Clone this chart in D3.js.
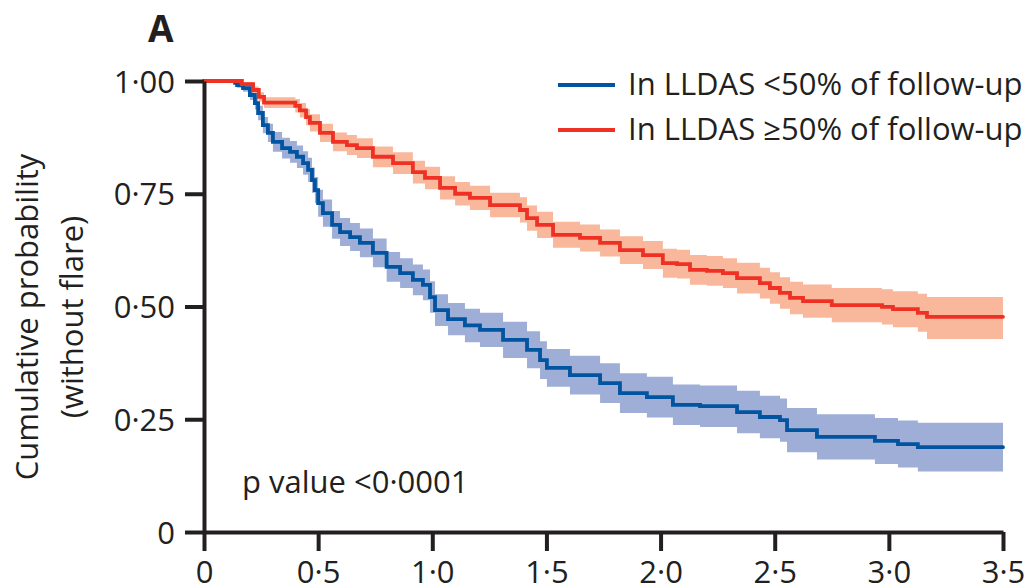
<!DOCTYPE html>
<html>
<head>
<meta charset="utf-8">
<script src="https://cdn.jsdelivr.net/npm/d3@7"></script>
<style>
  body { margin: 0; background: #fff; }
  svg text { font-family: "Open Sans", "Noto Sans", sans-serif; fill: #231f20; }
</style>
</head>
<body>
<div id="chart"></div>
<script>
// years of follow-up, survival without flare, and 95% CI
const lowTime = [0, 0.136, 0.145, 0.171, 0.201, 0.223, 0.237, 0.258, 0.28, 0.302, 0.342, 0.377, 0.407, 0.434, 0.456, 0.473, 0.486, 0.50, 0.521, 0.561, 0.596, 0.64, 0.683, 0.74, 0.80, 0.859, 0.915, 0.959, 0.99, 1.012, 1.069, 1.143, 1.209, 1.31, 1.415, 1.472, 1.502, 1.603, 1.735, 1.822, 1.94, 2.054, 2.173, 2.335, 2.435, 2.523, 2.554, 2.685, 2.939, 3.04, 3.127, 3.5];
const lowSurv = [1, 0.996, 0.991, 0.984, 0.969, 0.951, 0.929, 0.902, 0.885, 0.865, 0.851, 0.843, 0.832, 0.818, 0.803, 0.780, 0.758, 0.729, 0.707, 0.681, 0.665, 0.654, 0.641, 0.619, 0.588, 0.574, 0.559, 0.548, 0.521, 0.492, 0.472, 0.458, 0.448, 0.426, 0.404, 0.381, 0.364, 0.348, 0.330, 0.308, 0.299, 0.282, 0.279, 0.266, 0.255, 0.248, 0.226, 0.211, 0.202, 0.195, 0.188, 0.188];
const lowLower = [1, 0.992, 0.985, 0.976, 0.958, 0.937, 0.913, 0.884, 0.865, 0.843, 0.828, 0.819, 0.807, 0.792, 0.776, 0.752, 0.729, 0.699, 0.677, 0.650, 0.634, 0.623, 0.609, 0.587, 0.555, 0.541, 0.525, 0.514, 0.486, 0.457, 0.436, 0.421, 0.410, 0.386, 0.363, 0.339, 0.322, 0.305, 0.286, 0.264, 0.254, 0.237, 0.233, 0.219, 0.208, 0.200, 0.177, 0.161, 0.151, 0.143, 0.134, 0.134];
const lowUpper = [1, 1, 0.997, 0.992, 0.980, 0.965, 0.945, 0.920, 0.905, 0.887, 0.874, 0.867, 0.857, 0.844, 0.830, 0.808, 0.787, 0.759, 0.737, 0.712, 0.696, 0.685, 0.673, 0.651, 0.621, 0.607, 0.593, 0.582, 0.556, 0.527, 0.508, 0.495, 0.486, 0.466, 0.445, 0.423, 0.406, 0.391, 0.374, 0.352, 0.344, 0.327, 0.325, 0.313, 0.302, 0.296, 0.275, 0.261, 0.253, 0.247, 0.242, 0.242];

const highTime = [0, 0.166, 0.215, 0.24, 0.263, 0.40, 0.42, 0.447, 0.464, 0.508, 0.565, 0.626, 0.67, 0.74, 0.828, 0.915, 0.968, 1.034, 1.10, 1.165, 1.253, 1.384, 1.415, 1.459, 1.529, 1.647, 1.735, 1.822, 1.923, 2.01, 2.072, 2.129, 2.203, 2.273, 2.335, 2.435, 2.479, 2.523, 2.567, 2.624, 2.75, 2.97, 3.018, 3.127, 3.167, 3.5];
const highSurv = [1, 0.993, 0.98, 0.965, 0.952, 0.945, 0.935, 0.92, 0.907, 0.885, 0.865, 0.858, 0.851, 0.832, 0.818, 0.798, 0.785, 0.763, 0.75, 0.741, 0.725, 0.714, 0.696, 0.681, 0.659, 0.652, 0.641, 0.625, 0.614, 0.596, 0.594, 0.581, 0.579, 0.574, 0.563, 0.552, 0.541, 0.530, 0.519, 0.512, 0.503, 0.499, 0.494, 0.486, 0.477, 0.477];
const highLower = [1, 0.988, 0.972, 0.955, 0.940, 0.930, 0.919, 0.902, 0.888, 0.865, 0.844, 0.836, 0.829, 0.809, 0.794, 0.773, 0.760, 0.737, 0.724, 0.714, 0.698, 0.686, 0.668, 0.652, 0.630, 0.622, 0.611, 0.594, 0.583, 0.564, 0.562, 0.548, 0.546, 0.541, 0.529, 0.518, 0.506, 0.495, 0.483, 0.475, 0.465, 0.460, 0.454, 0.444, 0.428, 0.428];
const highUpper = [1, 0.998, 0.988, 0.975, 0.964, 0.960, 0.951, 0.938, 0.926, 0.905, 0.886, 0.880, 0.873, 0.855, 0.842, 0.823, 0.810, 0.789, 0.776, 0.768, 0.752, 0.742, 0.724, 0.710, 0.688, 0.682, 0.671, 0.656, 0.645, 0.628, 0.626, 0.614, 0.612, 0.607, 0.597, 0.586, 0.576, 0.565, 0.555, 0.549, 0.541, 0.538, 0.534, 0.528, 0.521, 0.521];

const seriesNames = ['In LLDAS <50% of follow-up', 'In LLDAS \u226550% of follow-up'];
const xTicks = [0, 0.5, 1, 1.5, 2, 2.5, 3, 3.5];
const xTickLabels = ['0', '0\u00b75', '1\u00b70', '1\u00b75', '2\u00b70', '2\u00b75', '3\u00b70', '3\u00b75'];
const yTicks = [0, 0.25, 0.5, 0.75, 1];
const yTickLabels = ['0', '0\u00b725', '0\u00b750', '0\u00b775', '1\u00b700'];

const lineColors = ['#0054a0', '#ee3124'];
const bandColors = ['#9eaed7', '#f9b89c'];
const fontSize = 31;

const width = 1029, height = 587;
const svg = d3.select('#chart').append('svg')
    .attr('width', width)
    .attr('height', height);

const x = d3.scaleLinear().domain([0, 3.5]).range([204, 1003]);
const y = d3.scaleLinear().domain([0, 1]).range([532, 81]);

const toRows = (t, s, lo, hi) => t.map((d, i) => ({t: d, s: s[i], lo: lo[i], hi: hi[i]}));
const groups = [
    toRows(lowTime, lowSurv, lowLower, lowUpper),
    toRows(highTime, highSurv, highLower, highUpper)
];

const band = d3.area()
    .curve(d3.curveStepAfter)
    .x(d => x(d.t))
    .y0(d => y(d.lo))
    .y1(d => y(d.hi));

const line = d3.line()
    .curve(d3.curveStepAfter)
    .x(d => x(d.t))
    .y(d => y(d.s));

svg.selectAll('.band')
    .data(groups)
    .enter()
    .append('path')
    .attr('class', 'band')
    .attr('fill', (d, i) => bandColors[i])
    .attr('d', band);

svg.selectAll('.curve')
    .data(groups)
    .enter()
    .append('path')
    .attr('class', 'curve')
    .attr('fill', 'none')
    .attr('stroke', (d, i) => lineColors[i])
    .attr('stroke-width', 3.8)
    .attr('stroke-linecap', 'round')
    .attr('d', line);

// axes
const yAxis = svg.append('g')
    .attr('transform', `translate(${x(0)},0)`)
    .call(d3.axisLeft(y)
        .tickValues(yTicks)
        .tickFormat((d, i) => yTickLabels[i])
        .tickSize(19)
        .tickSizeOuter(0)
        .tickPadding(10));

const xAxis = svg.append('g')
    .attr('transform', `translate(0,${y(0)})`)
    .call(d3.axisBottom(x)
        .tickValues(xTicks)
        .tickFormat((d, i) => xTickLabels[i])
        .tickSize(19)
        .tickSizeOuter(0)
        .tickPadding(10));

[yAxis, xAxis].forEach(a => {
    a.select('.domain').attr('stroke', '#231f20').attr('stroke-width', 4);
    a.selectAll('.tick line').attr('stroke', '#231f20').attr('stroke-width', 4);
    a.selectAll('.tick text')
        .attr('fill', '#231f20')
        .style('font-size', fontSize + 'px')
        .style('font-family', '"Open Sans", sans-serif');
});
yAxis.selectAll('.tick text').attr('dy', '0.36em');

// y axis title
const yTitle = svg.append('text')
    .attr('transform', 'translate(38,317) rotate(-90)')
    .attr('text-anchor', 'middle')
    .style('font-size', fontSize + 'px');
yTitle.append('tspan').attr('x', 0).attr('y', 0).text('Cumulative probability');
yTitle.append('tspan').attr('x', 0).attr('y', 45).text('(without flare)');

// panel letter
svg.append('text')
    .attr('x', 148)
    .attr('y', 42)
    .style('font-size', '37px')
    .style('font-weight', 'bold')
    .text('A');

svg.append('text')
    .attr('x', 242)
    .attr('y', 493)
    .style('font-size', fontSize + 'px')
    .text('p value <0\u00b70001');

// legend
const legend = svg.selectAll('.legend')
    .data(seriesNames)
    .enter()
    .append('g')
    .attr('class', 'legend')
    .attr('transform', (d, i) => `translate(558,${85 + i * 45})`);

legend.append('line')
    .attr('x1', 0)
    .attr('x2', 57)
    .attr('stroke', (d, i) => lineColors[i])
    .attr('stroke-width', 4);

legend.append('text')
    .attr('x', 70)
    .attr('y', 10)
    .style('font-size', fontSize + 'px')
    .text(d => d);
</script>
</body>
</html>
